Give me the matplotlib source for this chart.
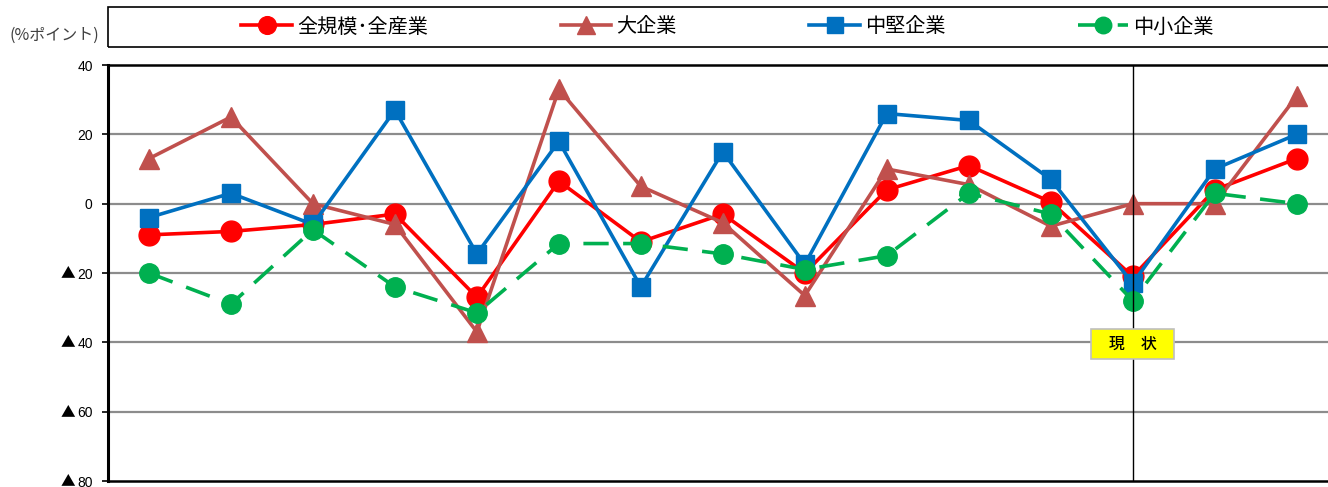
import matplotlib.pyplot as plt
from matplotlib.patches import Rectangle
import matplotlib.transforms as mtransforms

# 15 periods, no visible x labels in the crop
periods = list(range(15))

all_sizes = [-9, -8, -6, -3, -27, 6.5, -11, -3, -20, 4, 11, 0.5, -21, 4, 13]
large = [13, 25, 0, -6, -37, 33, 5, -5.5, -26.5, 10, 5.5, -6.5, 0, 0, 31]
medium = [-4, 3, -6, 27, -14.5, 18, -24, 15, -17.5, 26, 24, 7, -23, 10, 20]
small = [-20, -29, -7.5, -24, -31.5, -11.5, -11.5, -14.5, -19, -15, 3, -3, -28, 3, 0]

labels = ["全規模･全産業", "大企業", "中堅企業", "中小企業"]
yticks = [40, 20, 0, -20, -40, -60, -80]
current_idx = 12
current_label = "   現　状   "
current_y = -40.5

jp = ["Noto Sans CJK JP", "DejaVu Sans"]
num = ["Liberation Sans", "DejaVu Sans"]

fig = plt.figure(figsize=(13.28, 4.87), dpi=100)
ax = fig.add_axes([0.0813, 0.0123, 0.926, 0.8542])

ax.plot(periods, all_sizes, color="#FF0000", lw=2.6, marker="o", ms=15,
        label=labels[0], zorder=3)
ax.plot(periods, large, color="#C0504D", lw=2.6, marker="^", ms=15,
        label=labels[1], zorder=4)
ax.plot(periods, medium, color="#0070C0", lw=2.6, marker="s", ms=13,
        label=labels[2], zorder=5)
ax.plot(periods, small, color="#00B050", lw=2.6, marker="o", ms=14,
        dashes=(7, 4), label=labels[3], zorder=6)

ax.set_xlim(-0.5, len(periods) - 0.5)
ax.set_ylim(-80, 40)
ax.set_yticks(yticks)
ax.set_yticklabels([str(abs(v)) for v in yticks], family=num, fontsize=10)
ax.set_xticks([])
ax.tick_params(axis="y", direction="out", length=4, width=1.2, pad=7)

# negative values are marked with a triangle in front of the number
trans = mtransforms.blended_transform_factory(ax.transAxes, ax.transData)
for v in yticks:
    if v < 0:
        ax.text(-0.0325, v, "▲", transform=trans, family=jp, fontsize=10.5,
                ha="center", va="center", clip_on=False)

for v in yticks[1:-1]:
    ax.axhline(v, color="#8c8c8c", lw=1.6, zorder=1)

ax.spines["left"].set_linewidth(2.2)
ax.spines["top"].set_linewidth(1.8)
ax.spines["bottom"].set_linewidth(1.8)
ax.spines["right"].set_visible(False)

ax.axvline(current_idx, color="black", lw=1.0, zorder=7)
ax.text(current_idx, current_y, current_label, family=jp, fontsize=11.5,
        fontweight="medium", ha="center", va="center", zorder=8,
        bbox=dict(boxstyle="square,pad=0.42", facecolor="#FFFF00",
                  edgecolor="#bfbfbf", lw=1.2))

# legend frame and entries
fig.patches.append(Rectangle((0.0813, 1 - 47 / 487), 0.95, 40 / 487,
                             transform=fig.transFigure, fill=False,
                             edgecolor="black", lw=1.2))
fig.legend(loc="center", bbox_to_anchor=(0.548, 1 - 27 / 487), ncol=4,
           frameon=False, prop={"family": jp, "size": 14.5},
           handlelength=2.5, handletextpad=0.25, columnspacing=6.6,
           markerscale=0.85)

fig.text(0.007, 1 - 35 / 487, "(%ポイント)", family=jp, fontsize=11.5,
         color="#404040", va="center", ha="left")

fig.savefig("out.png", dpi=100)
